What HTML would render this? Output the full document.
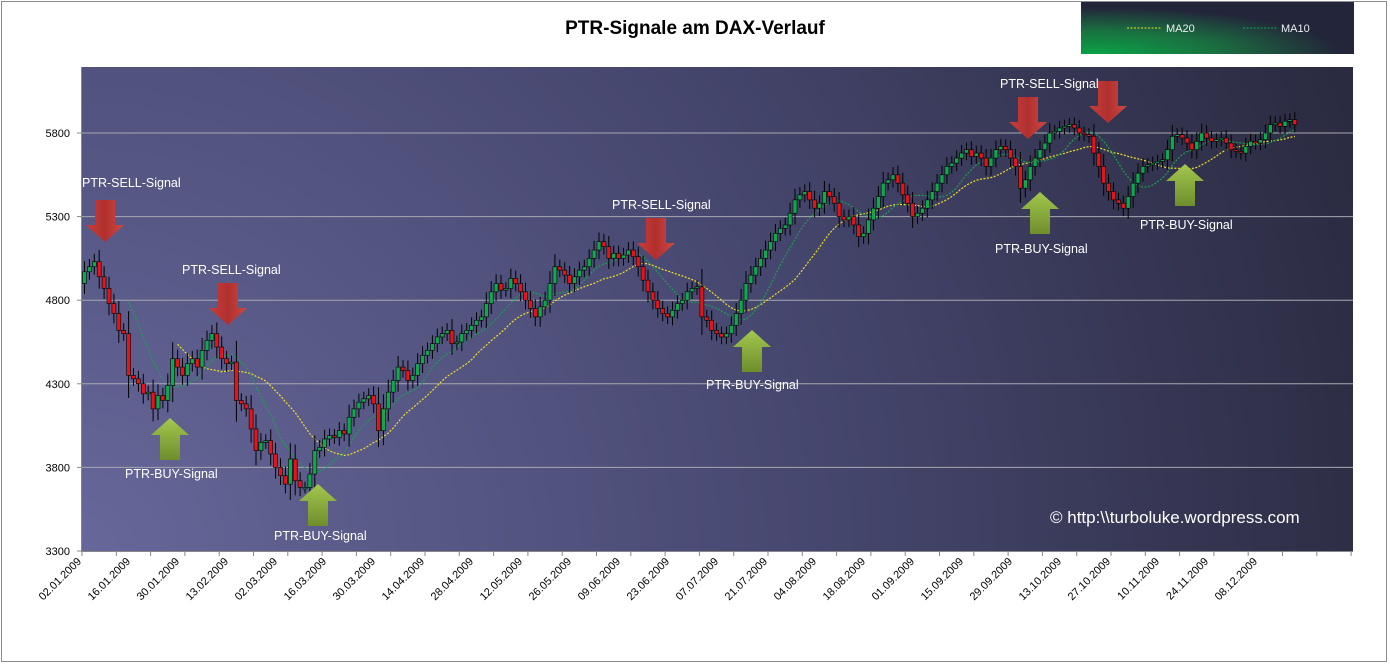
<!DOCTYPE html>
<html><head><meta charset="utf-8"><style>
html,body{margin:0;padding:0;background:#fff;}
svg{display:block;font-family:"Liberation Sans",sans-serif;}
</style></head><body>
<svg id="chart" width="1390" height="664" viewBox="0 0 1390 664">
<defs>
<radialGradient id="bg" cx="0" cy="1" r="1.25" gradientUnits="objectBoundingBox" gradientTransform="scale(1,2.6) translate(0,-0.615)">
<stop offset="0" stop-color="#67679a"/><stop offset="0.45" stop-color="#474870"/><stop offset="1" stop-color="#1f1f2e"/>
</radialGradient>
<radialGradient id="lg" cx="0.05" cy="1" r="0.9">
<stop offset="0" stop-color="#0aa246"/><stop offset="0.5" stop-color="#1a7040"/><stop offset="1" stop-color="#23253a"/>
</radialGradient>
<linearGradient id="red" x1="0" y1="0" x2="1" y2="0"><stop offset="0" stop-color="#c93d3a"/><stop offset="0.5" stop-color="#b0302e"/><stop offset="1" stop-color="#d14944"/></linearGradient>
<linearGradient id="grn" x1="0" y1="0" x2="0" y2="1"><stop offset="0" stop-color="#a3c74e"/><stop offset="1" stop-color="#6e8e2c"/></linearGradient>
</defs>
<rect x="1.5" y="1.5" width="1385" height="660" fill="#fff" stroke="#8c8c8c"/>
<text x="695" y="34" text-anchor="middle" font-size="19" font-weight="bold" fill="#000">PTR-Signale am DAX-Verlauf</text>
<g>
<rect x="1081" y="2" width="273" height="52" fill="url(#lg)"/>
<line x1="1127" y1="28" x2="1162" y2="28" stroke="#f0e020" stroke-dasharray="2,1.5"/>
<text x="1166" y="32" font-size="11" fill="#e8f0f0">MA20</text>
<line x1="1243" y1="28" x2="1277" y2="28" stroke="#18a050" stroke-dasharray="2,1.5"/>
<text x="1281" y="32" font-size="11" fill="#e8f0f0">MA10</text>
</g>
<rect x="82" y="67" width="1271" height="484" fill="url(#bg)"/>
<g id="grid"></g><g id="axes"></g><g id="ma"></g><g id="candles"></g><g id="signals"></g>
<text x="1050" y="523" font-size="17" fill="#fff">© http:\\turboluke.wordpress.com</text>
</svg>
<script>
const closes = [
4970,5000,5030,4940,4870,4780,4720,4620,4600,4350,
4330,4300,4240,4250,4150,4230,4200,4290,4450,4400,
4350,4420,4450,4400,4500,4560,4600,4520,4450,4420,
4430,4200,4180,4150,4030,3900,3950,3960,3880,3800,
3750,3700,3850,3720,3680,3680,3760,3900,3920,3970,
3990,3980,4020,4000,4100,4150,4190,4210,4230,4180,
4020,4150,4250,4320,4400,4380,4320,4350,4420,4470,
4500,4540,4580,4600,4620,4540,4550,4600,4620,4650,
4680,4700,4780,4850,4900,4860,4870,4930,4900,4850,
4800,4750,4700,4760,4800,4900,5000,4980,4950,4900,
4940,4980,5000,5050,5100,5150,5120,5050,5080,5050,
5070,5100,5060,5000,4920,4850,4800,4750,4720,4700,
4740,4780,4800,4850,4870,4880,4700,4680,4620,4600,
4580,4600,4650,4720,4800,4900,4950,5000,5050,5100,
5150,5200,5230,5250,5320,5400,5430,5450,5400,5350,
5380,5450,5420,5380,5300,5280,5300,5250,5180,5200,
5280,5350,5420,5500,5520,5550,5500,5430,5380,5300,
5320,5350,5400,5450,5500,5550,5600,5620,5650,5680,
5700,5660,5680,5650,5600,5650,5700,5720,5700,5650,
5600,5470,5520,5600,5650,5700,5740,5800,5810,5830,
5840,5850,5830,5800,5790,5780,5680,5600,5500,5450,
5400,5380,5350,5420,5500,5560,5600,5610,5620,5630,
5640,5700,5780,5790,5770,5740,5700,5750,5800,5770,
5750,5760,5770,5740,5700,5690,5680,5720,5750,5740,
5760,5800,5850,5860,5840,5870,5880,5850];
const opens = [4900].concat(closes.slice(0,-1));
const yTicks = [3300,3800,4300,4800,5300,5800];
const dateLabels = ["02.01.2009","16.01.2009","30.01.2009","13.02.2009","02.03.2009","16.03.2009","30.03.2009","14.04.2009","28.04.2009","12.05.2009","26.05.2009","09.06.2009","23.06.2009","07.07.2009","21.07.2009","04.08.2009","18.08.2009","01.09.2009","15.09.2009","29.09.2009","13.10.2009","27.10.2009","10.11.2009","24.11.2009","08.12.2009"];
const sellSignals = [5,29,113,188,204];
const buySignals = [18,48,136,191,220];

const NS="http://www.w3.org/2000/svg";
const X0=82, X1=1353, STEP=4.9, Y0=551;
const xs=i=>X0+STEP*i+2.5;
const ys=v=>Y0-(v-3300)*(83.6/500);
function mk(tag,attrs,parent){const e=document.createElementNS(NS,tag);for(const k in attrs)e.setAttribute(k,attrs[k]);parent.appendChild(e);return e;}
const grid=document.getElementById('grid'),axes=document.getElementById('axes');
yTicks.forEach(v=>{
  const y=ys(v);
  if(v>3300){const l=mk('line',{x1:X0,x2:X1,y1:y,y2:y,stroke:'#a8a8b0','stroke-width':1},grid);
  
  }
  const t=mk('text',{x:70,y:y+4,'text-anchor':'end','font-size':11,fill:'#000'},axes);
  t.textContent=v;
  
  
  mk('line',{x1:77,x2:82,y1:y,y2:y,stroke:'#888'},axes);
});
mk('line',{x1:81.5,x2:81.5,y1:67,y2:552,stroke:'#888'},axes);
mk('line',{x1:81,x2:X1,y1:551.5,y2:551.5,stroke:'#888'},axes);
for(let i=0;X0+i*7*STEP<=X1+1;i++){const x=X0+i*7*STEP;mk('line',{x1:x,x2:x,y1:551,y2:556,stroke:'#888'},axes);}
dateLabels.forEach((d,k)=>{
  const x=X0+k*10*STEP, y=562;
  const t=mk('text',{x:x,y:y,'text-anchor':'end','font-size':11,fill:'#000',transform:`rotate(-45 ${x} ${y})`},axes);
  t.textContent=d;
  
  
});
function maPath(n){let p='';for(let i=n-1;i<closes.length;i++){let s=0;for(let j=i-n+1;j<=i;j++)s+=closes[j];p+=(p?'L':'M')+xs(i).toFixed(1)+','+ys(s/n).toFixed(1);}return p;}
const ma=document.getElementById('ma');
const m20=mk('path',{d:maPath(20),fill:'none',stroke:'#f0e020','stroke-width':1.2,'stroke-dasharray':'2,1.5'},ma);


const m10=mk('path',{d:maPath(10),fill:'none',stroke:'#18a050','stroke-width':1.2,'stroke-dasharray':'2,1.5'},ma);


const cg=document.getElementById('candles');
closes.forEach((c,i)=>{
  const o=opens[i], up=c>=o, hi=Math.max(o,c), lo=Math.min(o,c);
  const w=Math.abs(c-o)*0.4+35;
  const g=mk('g',{},cg);
  
  
  const x=xs(i);
  mk('line',{x1:x,x2:x,y1:ys(hi+w),y2:ys(lo-w),stroke:'#000','stroke-width':1},g);
  const top=ys(hi), h=Math.max(1.5,ys(lo)-top);
  mk('rect',{x:x-2,y:top,width:4,height:h,fill:up?'#10a84c':'#e3141a',stroke:'#000','stroke-width':0.6},g);
});
const sg=document.getElementById('signals');
const sellPos=[[105,200,82,187],[228,283,182,274],[656,218,612,209],[1028,97,1000,88],[1108,81,null,null]];
sellSignals.forEach((i,k)=>{
  const [cx,ty,lx,ly]=sellPos[k];
  const g=mk('g',{},sg);
  
  
  mk('path',{d:`M${cx-10},${ty} h20 v25 h9 l-19,17 l-19,-17 h9 z`,fill:'url(#red)'},g);
  if(lx!==null){const t=mk('text',{x:lx,y:ly,'font-size':12.5,fill:'#fff'},g);t.textContent='PTR-SELL-Signal';}
});
const buyPos=[[170,418,125,478],[318,484,274,540],[752,330,706,389],[1040,192,995,253],[1185,164,1140,229]];
buySignals.forEach((i,k)=>{
  const [cx,ty,lx,ly]=buyPos[k];
  const g=mk('g',{},sg);
  
  
  mk('path',{d:`M${cx},${ty} l19,17 h-9 v25 h-20 v-25 h-9 z`,fill:'url(#grn)'},g);
  const t=mk('text',{x:lx,y:ly,'font-size':12.5,fill:'#fff'},g);t.textContent='PTR-BUY-Signal';
});
</script>
</body></html>
